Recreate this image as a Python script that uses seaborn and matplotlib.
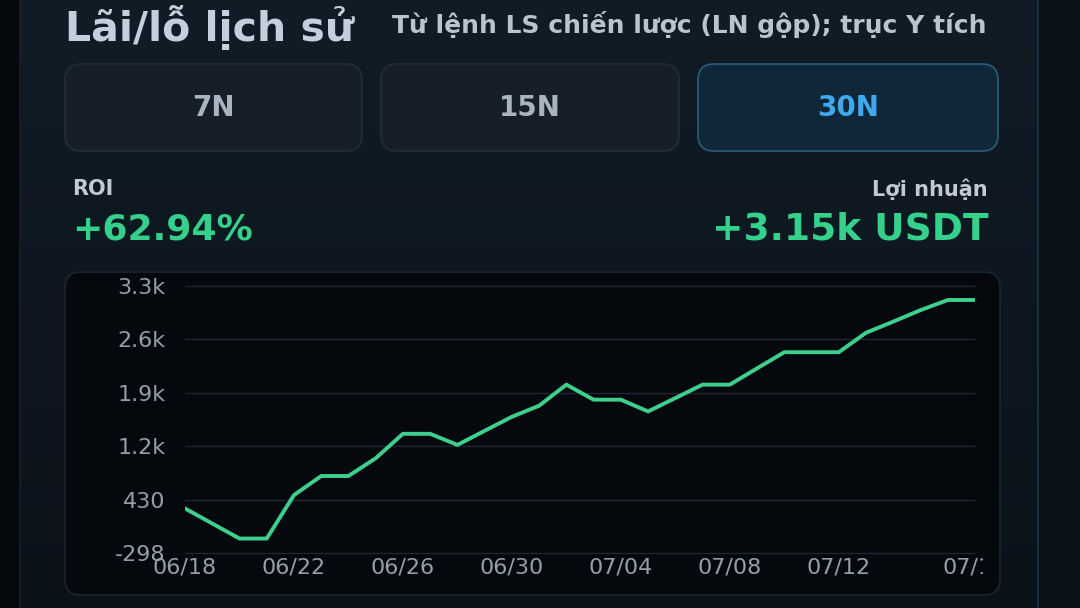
import numpy as np
import pandas as pd
import matplotlib
matplotlib.use("Agg")
import matplotlib.pyplot as plt
from matplotlib.patches import FancyBboxPatch, Rectangle
import seaborn as sns

# data
dates = pd.date_range("2025-06-18", "2025-07-17", freq="D")
pnl = [309, 104, -101, -101, 491, 751, 751, 993, 1326, 1326,
       1175, 1367, 1558, 1709, 1996, 1791, 1791, 1631, 1813, 1996,
       1996, 2218, 2438, 2438, 2438, 2703, 2855, 3011, 3149, 3150]

x_tick_dates = ["2025-06-18", "2025-06-22", "2025-06-26", "2025-06-30",
                "2025-07-04", "2025-07-08", "2025-07-12", "2025-07-17"]
x_tick_labels = ["06/18", "06/22", "06/26", "06/30", "07/04", "07/08", "07/12", "07/17"]
y_min, y_max = -298, 3340
y_tick_labels = ["-298", "430", "1.2k", "1.9k", "2.6k", "3.3k"]

title = "Lãi/lỗ lịch sử"
subtitle = "Từ lệnh LS chiến lược (LN gộp); trục Y tích"
periods = ["7N", "15N", "30N"]
active_period = "30N"
roi_label, roi_value = "ROI", "+62.94%"
profit_label, profit_value = "Lợi nhuận", "+3.15k USDT"

df = pd.DataFrame({"date": dates, "pnl": pnl})

sns.set_theme(style="dark")
plt.rcParams["font.family"] = ["DejaVu Sans"]

W, H = 1080, 608
fig = plt.figure(figsize=(W / 100, H / 100), dpi=100, facecolor="#05080c")

# background layer in pixel coordinates
bg = fig.add_axes([0, 0, 1, 1], zorder=0)
bg.set_xlim(0, W)
bg.set_ylim(H, 0)
bg.axis("off")

grad = np.linspace(0, 1, 256).reshape(-1, 1)
cmap = matplotlib.colors.LinearSegmentedColormap.from_list("panel", ["#111c26", "#0b121a"])
bg.imshow(grad, cmap=cmap, extent=(20, 1038, H, 0), aspect="auto", zorder=0)
bg.add_patch(Rectangle((1038, 0), W - 1038, H, color="#0a1117", zorder=0))
bg.plot([20, 20], [0, H], color="#15212b", lw=1.2, zorder=1)
bg.plot([1038, 1038], [0, H], color="#17303f", lw=1.5, zorder=1)

bg.text(65, 28, title, fontsize=29.5, fontweight="bold", color="#c5cfdb", va="center", ha="left")
bg.text(392, 25, subtitle, fontsize=18, fontweight="bold", color="#b9c4cf", va="center", ha="left")

boxes = [(65, 362), (381, 679), (698, 998)]
for (x0, x1), name in zip(boxes, periods):
    active = name == active_period
    bg.add_patch(FancyBboxPatch((x0, 64), x1 - x0, 87,
                                boxstyle="round,pad=0,rounding_size=16",
                                fc="#10273a" if active else "#161f28",
                                ec="#2a5a76" if active else "#212c37", lw=1.3, zorder=2))
    bg.text((x0 + x1) / 2, 108, name, fontsize=20, fontweight="bold",
            color="#3fa9ef" if active else "#a9b4c0", ha="center", va="center", zorder=3)

bg.text(72, 189, roi_label, fontsize=15, fontweight="bold", color="#c0cad4", va="center")
bg.text(72, 229, roi_value, fontsize=26, fontweight="bold", color="#35d08c", va="center")
bg.text(988, 189, profit_label, fontsize=15, fontweight="bold", color="#c0cad4", va="center", ha="right")
bg.text(989, 229, profit_value, fontsize=27, fontweight="bold", color="#35d08c", va="center", ha="right")

chart_box = FancyBboxPatch((65, 272), 935, 323, boxstyle="round,pad=0,rounding_size=16",
                           fc="#05080d", ec="#1a242e", lw=1.3, zorder=2)
bg.add_patch(chart_box)

# line chart
px_l, px_r, px_t, px_b = 185, 975, 286, 553
ax = fig.add_axes([px_l / W, (H - px_b) / H, (px_r - px_l) / W, (px_b - px_t) / H], zorder=1)
ax.patch.set_alpha(0)

sns.lineplot(data=df, x="date", y="pnl", ax=ax, color="#3ecf8e", linewidth=2.8)

y_ticks = np.linspace(y_min, y_max, len(y_tick_labels))
ax.set_ylim(y_min, y_max)
ax.set_yticks(y_ticks)
ax.set_yticklabels(y_tick_labels)
ax.set_xlim(dates[0], dates[-1])
ax.set_xticks(pd.to_datetime(x_tick_dates))
ax.set_xticklabels(x_tick_labels)

ax.grid(axis="y", color="#1f2832", linewidth=1)
ax.grid(axis="x", visible=False)
for gl in ax.get_ygridlines():
    gl.set_clip_on(False)
for s in ax.spines.values():
    s.set_visible(False)
ax.tick_params(axis="both", length=0, labelsize=16, labelcolor="#959fa9")
ax.tick_params(axis="y", pad=14)
ax.tick_params(axis="x", pad=3)
ax.set_xlabel("")
ax.set_ylabel("")

# the last date label is cut by the chart card
clip_rect = Rectangle((65, 272), 918, 323, transform=bg.transData)
for lbl in ax.get_xticklabels()[-1:]:
    lbl.set_clip_on(True)
    lbl.set_clip_path(clip_rect)

fig.savefig("out.png", dpi=100, facecolor=fig.get_facecolor())
